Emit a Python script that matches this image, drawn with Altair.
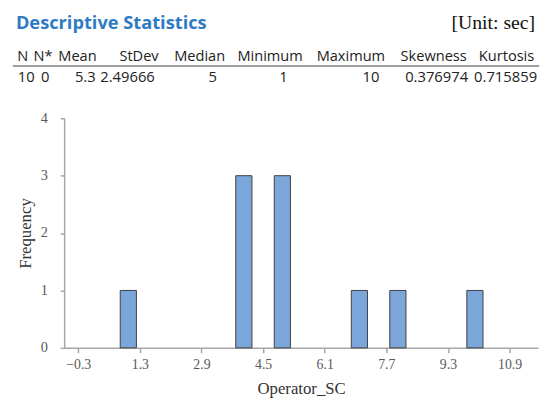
import altair as alt
import pandas as pd

# ---- data ----
bin_values = [1, 4, 5, 7, 8, 10]
frequencies = [1, 3, 3, 1, 1, 1]
x_ticks = [-0.3, 1.3, 2.9, 4.5, 6.1, 7.7, 9.3, 10.9]
y_ticks = [0, 1, 2, 3, 4]

stat_names = ["N", "N*", "Mean", "StDev", "Median", "Minimum", "Maximum", "Skewness", "Kurtosis"]
stat_values = ["10", "0", "5.3", "2.49666", "5", "1", "10", "0.376974", "0.715859"]

# ---- layout (pixels, relative to plot-area left edge) ----
header_center_px = [c - 65 for c in [23, 43.5, 78.5, 141, 202.5, 274, 356, 440, 514]]
value_right_px = [c - 65 for c in [35, 50, 97, 157, 220, 292, 385, 475, 545]]

W, H = 481, 233
bar_half = 0.21
bar_df = pd.DataFrame({"value": bin_values, "freq": frequencies})

serif = "Liberation Serif"
sans = "Open Sans"
axis_gray = "#A6A6A6"
label_gray = "#595959"

bars = alt.Chart(bar_df).transform_calculate(
    x1=f"datum.value - {bar_half}", x2=f"datum.value + {bar_half}"
).mark_bar(fill="#7BA6D9", stroke="#404040", strokeWidth=1).encode(
    x=alt.X("x1:Q",
            scale=alt.Scale(domain=[-0.666, 11.64], nice=False, zero=False),
            axis=alt.Axis(values=x_ticks, format=".1f", title="Operator_SC",
                          grid=False, domainColor=axis_gray, domainWidth=1.5,
                          tickColor=axis_gray, tickSize=5, tickWidth=1.5,
                          labelFont=serif, labelFontSize=14, labelColor=label_gray,
                          labelPadding=5, titleFont=serif, titleFontSize=17,
                          titleFontWeight="normal", titleColor="#333333",
                          titlePadding=9)),
    x2="x2:Q",
    y=alt.Y("freq:Q",
            scale=alt.Scale(domain=[0, 4], nice=False),
            axis=alt.Axis(values=y_ticks, format="d", title="Frequency",
                          grid=False, domainColor=axis_gray, domainWidth=1.5,
                          tickColor=axis_gray, tickSize=4, tickWidth=1.5,
                          labelFont=serif, labelFontSize=14.5, labelColor=label_gray,
                          labelPadding=13, titleFont=serif, titleFontSize=17,
                          titleFontWeight="normal", titleColor="#333333",
                          titlePadding=6)),
    y2=alt.datum(0),
)

title_df = pd.DataFrame({"t": ["Descriptive Statistics"]})
title = alt.Chart(title_df).mark_text(
    align="left", baseline="middle", font=sans, fontSize=18.5, fontWeight="bold",
    color="#2E7BC4"
).encode(text="t:N", x=alt.value(-49), y=alt.value(-97))

unit_df = pd.DataFrame({"t": ["[Unit: sec]"]})
unit = alt.Chart(unit_df).mark_text(
    align="right", baseline="middle", font=serif, fontSize=20, color="#111111"
).encode(text="t:N", x=alt.value(478), y=alt.value(-97))

hdr_df = pd.DataFrame({"name": stat_names, "px": header_center_px})
header = alt.Chart(hdr_df).mark_text(
    align="center", baseline="middle", font=sans, fontSize=14.8, color="#222222"
).encode(text="name:N", x=alt.X("px:Q", scale=None, axis=None), y=alt.value(-62))

val_df = pd.DataFrame({"v": stat_values, "px": value_right_px})
vals = alt.Chart(val_df).mark_text(
    align="right", baseline="middle", font=sans, fontSize=15, color="#222222"
).encode(text="v:N", x=alt.X("px:Q", scale=None, axis=None), y=alt.value(-42))

rule = alt.Chart(pd.DataFrame({"a": [0]})).mark_rule(
    color="#7F7F7F", strokeWidth=1.5
).encode(x=alt.value(-52), x2=alt.value(482), y=alt.value(-53))

chart = alt.layer(bars, title, unit, header, vals, rule).properties(
    width=W, height=H,
    autosize=alt.AutoSizeParams(type="none"),
    padding={"left": 57, "top": 109, "right": 5, "bottom": 50},
).configure_view(stroke=None).resolve_scale(x="independent")

chart.save("out.html", embed_options={"renderer": "svg", "actions": False})
